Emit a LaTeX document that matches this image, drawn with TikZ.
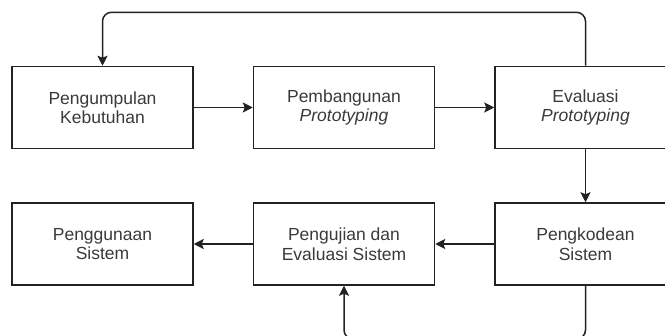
\documentclass[tikz,border=0pt]{standalone}
\usepackage{fontspec}
\setmainfont{Liberation Sans}
\usetikzlibrary{arrows.meta}
\definecolor{linec}{HTML}{222222}
\definecolor{textc}{HTML}{3A3A3A}
\tikzset{
  stepbox/.style={draw=linec, line width=1.5pt, minimum width=181pt, minimum height=82pt,
    inner sep=0pt, align=center, text=textc, font=\fontsize{17.5}{19.5}\selectfont},
  arr/.style={draw=linec, line width=1.5pt, -{Stealth[length=10pt,width=10pt,inset=2pt]}},
}
\begin{document}
\begin{tikzpicture}[x=1pt,y=-1pt]
\useasboundingbox (0,0) rectangle (665,336);
\clip (0,0) rectangle (665,336);
\node[stepbox] (pk1) at (102.5,107.5) {Pengumpulan\\Kebutuhan};
\node[stepbox] (pb) at (344,107.5) {Pembangunan\\\textit{Prototyping}};
\node[stepbox] (ev) at (585.5,107.5) {Evaluasi\\\textit{Prototyping}};
\node[stepbox] (pg) at (102.5,244) {Penggunaan\\Sistem};
\node[stepbox] (pu) at (344,244) {Pengujian dan\\Evaluasi Sistem};
\node[stepbox] (kd) at (585.5,244) {Pengkodean\\Sistem};
\coordinate (topline) at (0,12.3);
\coordinate (botline) at (0,339);
\draw[arr] (pk1) -- (pb);
\draw[arr] (pb) -- (ev);
\draw[arr] (ev) -- (kd);
\draw[arr] (kd) -- (pu);
\draw[arr] (pu) -- (pg);
\draw[arr, rounded corners=9pt] (ev.north) -- (ev.north |- topline) -- (pk1.north |- topline) -- (pk1.north);
\draw[arr, rounded corners=9pt] (kd.south) -- (kd.south |- botline) -- (pu.south |- botline) -- (pu.south);
\end{tikzpicture}
\end{document}
